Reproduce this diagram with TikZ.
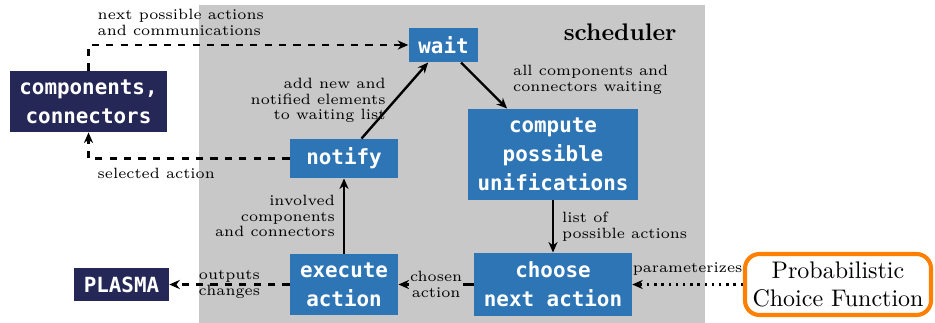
\documentclass[tikz,border=0pt]{standalone}
\usepackage{fontspec}
\usepackage{tikz}
\newfontfamily\boxfamily{DejaVu Sans Mono}
\definecolor{schedgray}{RGB}{200,200,200}
\definecolor{boxblue}{RGB}{46,117,182}
\definecolor{boxnavy}{RGB}{37,40,87}
\definecolor{frameorange}{RGB}{255,128,0}
\tikzset{
  box_font/.style = {font=\boxfamily\bfseries\fontsize{8.7}{12}\selectfont},
  note_font/.style = {font=\fontsize{6.2}{6.6}\selectfont},
  title_font/.style = {font=\bfseries}
}
\tikzset{
  task/.style = {box_font, text=white, fill=boxblue, align=center, inner xsep=4pt, inner ysep=1pt},
  actor/.style = {task, fill=boxnavy},
  chooser/.style = {draw=frameorange, line width=1.7pt, rounded corners=6pt, fill=white, align=center,
    minimum width=77.5pt, minimum height=25.4pt, inner sep=1pt},
  note/.style = {note_font},
  flow/.style = {->, line width=1pt},
  feed/.style = {flow, dashed},
  hint/.style = {flow, dotted}
}
\usetikzlibrary{arrows.meta, positioning, calc}

\begin{document}
\begin{tikzpicture}[x=0.41667pt, y=-0.41667pt,
            >={Stealth[length=4.4pt, width=3.8pt]}
            ]
        \useasboundingbox (0,0) rectangle (935,323);

        % Scheduler area
        \fill[schedgray] (199,5) rectangle (705,323);
        \coordinate (sched_ne) at (705,5);
        \node[title_font, anchor=north east] (sched_title) at ([shift={(-20,10)}]sched_ne) {scheduler};

        % Steps of the scheduler
        \node[task, minimum height=14.2pt] at (443.5,45) (wait) {wait};
        \node[task, minimum height=37.9pt] at (553,154.5) (compute) {
            compute\\possible\\unifications};
        \node[task, minimum width=45pt, minimum height=16.25pt] at (344,158.5) (notify) {notify};
        \node[task, minimum width=45pt, minimum height=25.4pt] at (344,284.5) (execute) {
            execute\\action};
        \node[task, minimum height=26.25pt] at (compute |- execute) (choose) {
            choose\\next action};

        % Outside the scheduler
        \node[actor, minimum height=25.4pt] at (88.5,101.5) (comp) {
            components,\\connectors};
        \node[actor, minimum height=13.75pt] at (121.5,284.5) (plasma) {PLASMA};
        \node[chooser] at (838,284.5) (prob) {
            Probabilistic\\Choice Function};

        % Arrows and labels
        \draw[feed] (comp.north) |- (wait.west)
            node[note, pos=0.5, above right, align=left] {next possible actions\\and communications};
        \draw[feed] (notify.west) -| (comp.south)
            node[note, pos=0.5, below right] {selected action};

        \draw[flow] (notify) -- node[note, left, align=right] {
            add new and\\notified elements\\to waiting list} (wait);
        \draw[flow] (wait) -- node[note, pos=0.38, right, xshift=10.6pt, align=left] {
            all components and\\connectors waiting} (compute);
        \draw[flow] (compute) -- node[note, right, align=left] {
            list of\\possible actions} (choose);
        \draw[flow] (choose) -- node[note, fill=schedgray, inner sep=0.5pt, align=center] {
            chosen\\action} (execute);
        \draw[flow] (execute) -- node[note, left, align=right] {
            involved\\components\\and connectors} (notify);

        \draw[feed] (execute) -- node[note, align=center] {outputs\\changes} (plasma);
        \draw[hint] (prob) -- node[note, above] {parameterizes} (choose);
    \end{tikzpicture}
\end{document}
